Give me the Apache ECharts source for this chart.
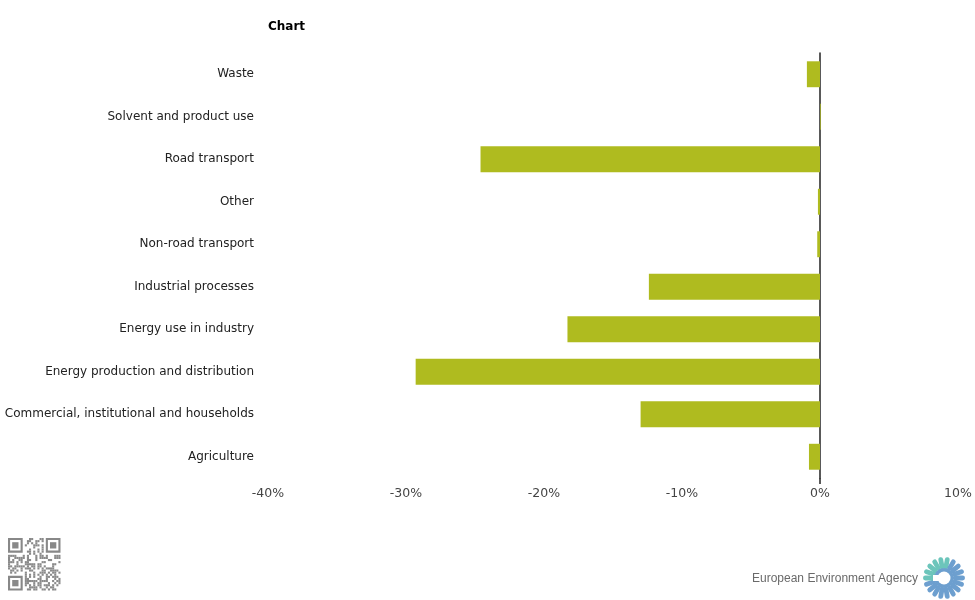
<!DOCTYPE html>
<html>
<head>
<meta charset="utf-8">
<script src="https://cdn.jsdelivr.net/npm/echarts@6/dist/echarts.min.js"></script>
<style>html,body{margin:0;padding:0;background:#fff}#c{width:975px;height:600px}</style>
</head>
<body>
<div id="c"></div>
<script>
var categories = ['Agriculture','Commercial, institutional and households','Energy production and distribution','Energy use in industry','Industrial processes','Non-road transport','Other','Road transport','Solvent and product use','Waste'];
var values = [-0.8, -13.0, -29.3, -18.3, -12.4, -0.2, -0.15, -24.6, 0.05, -0.95];
var xTicks = [-40, -30, -20, -10, 0, 10];

var chart = echarts.init(document.getElementById('c'));

var graphics = [];
// QR-like decoration
var qx = 8, qy = 538, cell = 2.1, n = 25;
function finder(cx, cy){
  graphics.push({type:'rect',shape:{x:qx+cx*cell+cell/2,y:qy+cy*cell+cell/2,width:6*cell,height:6*cell},style:{fill:'none',stroke:'#888',lineWidth:cell}});
  graphics.push({type:'rect',shape:{x:qx+(cx+2)*cell,y:qy+(cy+2)*cell,width:3*cell,height:3*cell},style:{fill:'#888'}});
}
finder(0,0); finder(18,0); finder(0,18);
var h = 12345;
for (var i=0;i<n;i++){ for (var j=0;j<n;j++){
  if ((i<8&&j<8)||(i<8&&j>16)||(i>16&&j<8)) continue;
  h = (h*1103515245+12345) & 0x7fffffff;
  if ((h>>16)&1) graphics.push({type:'rect',shape:{x:qx+j*cell,y:qy+i*cell,width:cell,height:cell},style:{fill:'#8a8a8a'}});
}}
// EEA text
graphics.push({type:'text',left:752,top:573,style:{text:'European Environment Agency',font:'12px "Liberation Sans"',fill:'#6a6a6a'}});
// flower logo
var cx=944, cy=578;
for (var k=0;k<18;k++){
  var deg = k*20;
  var a = deg/180*Math.PI;
  var col = (deg >= 170 && deg <= 290) ? '#6cc5bb' : '#6d9fcf';
  graphics.push({type:'rect',x:cx,y:cy,rotation:-a,shape:{x:9,y:-2.4,width:12,height:4.8,r:2.4},style:{fill:col}});
}
graphics.push({type:'circle',shape:{cx:cx,cy:cy,r:10},style:{fill:'#6d9fcf'}});
graphics.push({type:'circle',shape:{cx:cx,cy:cy,r:6.5},style:{fill:'#fff'}});
graphics.push({type:'rect',shape:{x:cx-11,y:cy-3,width:8,height:6},style:{fill:'#fff'}});

chart.setOption({
  animation:false,
  title:{text:'Chart',left:268,top:21,padding:0,textStyle:{fontSize:12,fontWeight:'bold',color:'#000',fontFamily:'DejaVu Sans'}},
  grid:{left:268,right:17,top:53,bottom:122,containLabel:false},
  xAxis:{type:'value',min:-40,max:10,interval:10,
    axisLine:{show:false},
    axisTick:{show:true,customValues:[0],length:6,lineStyle:{color:'#222',width:1.5}},
    splitLine:{show:false},
    axisLabel:{formatter:function(v){return v+'%';},color:'#444',fontSize:12.5,fontFamily:'DejaVu Sans',margin:9,
      customValues:xTicks}},
  yAxis:{type:'category',data:categories,
    axisLine:{show:true,onZero:true,lineStyle:{color:'#222',width:1.5}},
    axisTick:{show:false},
    axisLabel:{color:'#222',fontSize:12,fontFamily:'DejaVu Sans',margin:14}},
  series:[{type:'bar',data:values,barWidth:'61%',itemStyle:{color:'#AFBB1F'}}],
  graphic:graphics
});
</script>
</body>
</html>
